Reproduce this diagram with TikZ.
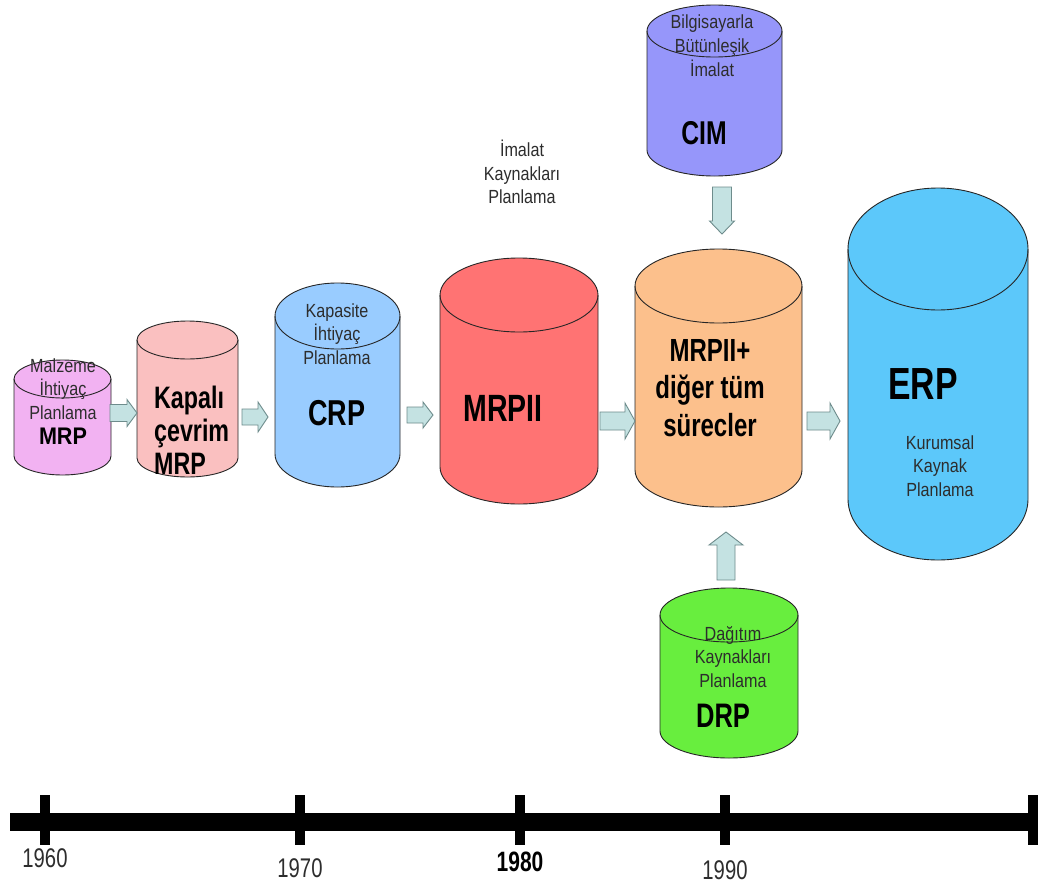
\documentclass[tikz,border=0pt]{standalone}
\usepackage{fontspec}
\setmainfont{Liberation Sans}
\newfontfamily\nrw[FakeStretch=0.85]{Liberation Sans}
\newfontfamily\cnd[FakeStretch=0.75]{Liberation Sans}
\newfontfamily\mrpf[FakeStretch=0.9]{Liberation Sans}
\usetikzlibrary{calc}
\definecolor{cMRP}{RGB}{242,178,242}
\definecolor{cKAP}{RGB}{250,192,192}
\definecolor{cCRP}{RGB}{153,204,255}
\definecolor{cMRPII}{RGB}{255,115,115}
\definecolor{cCIM}{RGB}{150,150,250}
\definecolor{cMID}{RGB}{252,192,140}
\definecolor{cERP}{RGB}{92,200,250}
\definecolor{cDRP}{RGB}{104,238,62}
\definecolor{arrfill}{RGB}{196,226,226}
\definecolor{arrline}{RGB}{110,140,140}
\definecolor{txtgray}{RGB}{45,45,45}

\newcommand\cyl[7]{% name, cx, top, rx, ry, bottom, fill
  \pgfmathsetmacro\cylyt{#3+#5}%
  \pgfmathsetmacro\cylyb{#6-#5}%
  \filldraw[cylst, fill=#7] (#2-#4,\cylyt) -- (#2-#4,\cylyb)
    arc[start angle=180, end angle=0, x radius=#4, y radius=#5]
    -- (#2+#4,\cylyt)
    arc[start angle=0, end angle=-180, x radius=#4, y radius=#5] -- cycle;
  \draw[cylst] (#2-#4,\cylyt) arc[start angle=180, end angle=0, x radius=#4, y radius=#5];
  \pgfmathsetmacro\cylw{2*#4}%
  \pgfmathsetmacro\cylh{#6-#3}%
  \pgfmathsetmacro\cylm{(#6+#3)/2}%
  \node[draw=none, inner sep=0, minimum width=\cylw pt, minimum height=\cylh pt] (#1) at (#2,\cylm) {};
}
\newcommand\barrow[5]{% from, to, shaft half, head half, head length
  \coordinate (bah) at ($(#2)!#5pt!(#1)$);
  \filldraw[barrowst] ($(#1)!#3pt!90:(#2)$) -- ($(bah)!#3pt!90:(#2)$) -- ($(bah)!#4pt!90:(#2)$)
    -- (#2) -- ($(bah)!#4pt!-90:(#2)$) -- ($(bah)!#3pt!-90:(#2)$) -- ($(#1)!#3pt!-90:(#2)$) -- cycle;
}

\begin{document}
\begin{tikzpicture}[x=1pt, y=-1pt,
  cylst/.style={draw=black!85, line width=0.9pt},
  barrowst/.style={draw=arrline, fill=arrfill, line width=0.9pt, line join=miter},
  small/.style={font=\nrw\fontsize{19}{23.3}\selectfont, text=txtgray, align=center, inner sep=0},
  bigtxt/.style={font=\cnd\bfseries\fontsize{#1}{#1}\selectfont, text=black, inner sep=0},
  year/.style={font=\cnd\fontsize{27}{27}\selectfont, text=txtgray, inner sep=0}]
\useasboundingbox (0,0) rectangle (1038,886);
\fill[white] (0,0) rectangle (1038,886);

% cylinders
\cyl{mrp}{62.5}{360}{48.5}{19}{475}{cMRP}
\cyl{kap}{187.5}{321}{50.5}{19}{477}{cKAP}
\cyl{crp}{337.5}{283}{62.5}{33}{487}{cCRP}
\cyl{mrpii}{519}{258}{79}{37}{504}{cMRPII}
\cyl{cim}{714.5}{5}{67.5}{26}{176}{cCIM}
\cyl{mid}{718.5}{249}{83.5}{37}{507}{cMID}
\cyl{erp}{938}{188}{90}{61}{560}{cERP}
\cyl{drp}{729}{588}{69}{27}{758}{cDRP}

% texts
\node[small] (t-mrp) at (63,389) {Malzeme\\İhtiyaç\\Planlama};
\node[inner sep=0, font=\mrpf\bfseries\fontsize{24}{24}\selectfont] (l-mrp) at (63,436) {MRP};
\node[align=left, anchor=west, inner sep=0, font=\cnd\bfseries\fontsize{31}{33}\selectfont] (l-kap) at (154,430) {Kapalı\\çevrim\\MRP};
\node[small] (t-crp) at (337,334) {Kapasite\\İhtiyaç\\Planlama};
\node[bigtxt=36] (l-crp) at (337,413) {CRP};
\node[bigtxt=38] (l-mrpii) at (503,408) {MRPII};
\node[small] (t-mrpii) at (522,172) {İmalat\\Kaynakları\\Planlama};
\node[small, font=\nrw\fontsize{19}{24}\selectfont] (t-cim) at (712,46) {Bilgisayarla\\Bütünleşik\\İmalat};
\node[bigtxt=33] (l-cim) at (704,133) {CIM};
\node[align=center, inner sep=0, font=\cnd\bfseries\fontsize{32}{37.5}\selectfont] (l-mid) at (710,388) {MRPII+\\diğer tüm\\sürecler};
\node[bigtxt=45] (l-erp) at (923,384) {ERP};
\node[small] (t-erp) at (940,466) {Kurumsal\\Kaynak\\Planlama};
\node[small] (t-drp) at (733,657) {Dağıtım\\Kaynakları\\Planlama};
\node[bigtxt=34] (l-drp) at (723,716) {DRP};

% arrow end points
\coordinate (a1s) at (110,413); \coordinate (a1e) at (137,413);
\coordinate (a2s) at (242,417); \coordinate (a2e) at (268,417);
\coordinate (a3s) at (407,415); \coordinate (a3e) at (433,415);
\coordinate (a4s) at (600,421); \coordinate (a4e) at (635,421);
\coordinate (a5s) at (807,421); \coordinate (a5e) at (840,421);
\coordinate (a6s) at (722,187); \coordinate (a6e) at (722,234);
\coordinate (a7s) at (726,580); \coordinate (a7e) at (726,532);
\barrow{a1s}{a1e}{8.5}{13.5}{10}
\barrow{a2s}{a2e}{8}{15}{10}
\barrow{a3s}{a3e}{8}{13}{10}
\barrow{a4s}{a4e}{9}{18}{10}
\barrow{a5s}{a5e}{9}{18}{10}
\barrow{a6s}{a6e}{9.5}{12.5}{13}
\barrow{a7s}{a7e}{9}{17}{13}

% timeline
\fill[black] (10,813) rectangle (1038,831);
\foreach \tx in {45,300,520,725,1033}{
  \fill[black] (\tx-5,795) rectangle (\tx+5,845);
}
\node[year] (y1960) at (45,858) {1960};
\node[year] (y1970) at (300,868) {1970};
\node[year, font=\cnd\bfseries\fontsize{28}{28}\selectfont, text=black] (y1980) at (520,862) {1980};
\node[year] (y1990) at (725,870) {1990};
\end{tikzpicture}
\end{document}
